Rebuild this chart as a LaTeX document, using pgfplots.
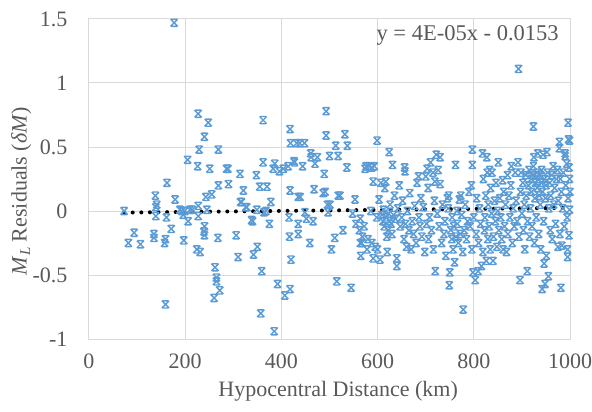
\documentclass[border=0pt]{standalone}
\usepackage{pgfplots}
\pgfplotsset{compat=1.18}
\usepackage{fontspec}
\setmainfont{Liberation Serif}
\definecolor{ptblue}{HTML}{5B9BD5}
\definecolor{txtgray}{HTML}{595959}
\definecolor{gridgray}{HTML}{D9D9D9}
\pgfdeclareplotmark{xstar}{%
  \pgfpathmoveto{\pgfqpoint{-\pgfplotmarksize}{-\pgfplotmarksize}}%
  \pgfpathlineto{\pgfqpoint{\pgfplotmarksize}{\pgfplotmarksize}}%
  \pgfpathmoveto{\pgfqpoint{-\pgfplotmarksize}{\pgfplotmarksize}}%
  \pgfpathlineto{\pgfqpoint{\pgfplotmarksize}{-\pgfplotmarksize}}%
  \pgfpathmoveto{\pgfqpoint{-0.8\pgfplotmarksize}{\pgfplotmarksize}}%
  \pgfpathlineto{\pgfqpoint{0.8\pgfplotmarksize}{\pgfplotmarksize}}%
  \pgfpathmoveto{\pgfqpoint{-0.8\pgfplotmarksize}{-\pgfplotmarksize}}%
  \pgfpathlineto{\pgfqpoint{0.8\pgfplotmarksize}{-\pgfplotmarksize}}%
  \pgfusepathqstroke}
\begin{document}
\fontsize{22bp}{26bp}\selectfont
\begin{tikzpicture}
\begin{axis}[
  scale only axis, width=481bp, height=320bp,
  xmin=0, xmax=1000, ymin=-1, ymax=1.5,
  xtick={0,200,400,600,800,1000},
  xticklabels={0,200,400,600,800,1000},
  ytick={-1,-0.5,0,0.5,1,1.5},
  yticklabels={-1,-0.5,0,0.5,1,1.5},
  major tick length=0pt,
  grid=major,
  grid style={gridgray, line width=1bp},
  axis line style={gridgray, line width=1bp},
  tick label style={font=\fontsize{22bp}{26bp}\selectfont, text=txtgray},
  xticklabel style={yshift=-7bp},
  yticklabel style={xshift=-14bp},
  xlabel={Hypocentral Distance (km)},
  ylabel={\textit{M}\raisebox{-0.35ex}{\fontsize{15bp}{15bp}\selectfont\textit{L}} Residuals (\textit{δM})},
  label style={font=\fontsize{22bp}{26bp}\selectfont, text=txtgray},
  xlabel style={at={(axis description cs:0.518,-0.163)}, anchor=center},
  ylabel style={at={(axis description cs:-0.141,0.4625)}, anchor=center, rotate=0},
  clip=false,
]
\addplot[only marks, mark=xstar, mark size=3.6bp, mark options={ptblue, line width=1.4bp}] coordinates {
(73,0.0)(82,-0.25)(94,-0.17)(107,-0.26)(135,-0.18)(135,-0.21)(138,0.12)(139,0.03)(139,-0.04)(141,0.05)(157,-0.25)(159,-0.22)(161,-0.05)(162,0.22)(171,-0.14)(177,1.47)(179,0.09)(159,-0.73)(189,0.01)(193,0.0)(196,-0.03)(197,-0.23)(199,0.0)
(205,0.40)(206,-0.08)(210,0.01)(215,0.01)(224,-0.30)(226,0.35)(227,0.76)(227,0.04)(227,-0.04)(229,0.48)(231,-0.32)(239,-0.16)(240,-0.12)(240,-0.19)(240,0.58)(243,0.11)(245,0.01)(248,0.69)(251,0.33)(255,0.13)(260,-0.68)(262,-0.44)(265,-0.52)(265,-0.55)(268,-0.21)(269,0.48)(269,0.20)(272,-0.62)(286,0.33)(289,0.33)(290,0.21)
(306,-0.19)(310,-0.36)(314,0.29)(315,0.07)(317,0.07)(321,0.16)(326,0.03)(328,0.03)(338,-0.07)(340,-0.08)(342,-0.34)(348,0.28)(349,0.01)(350,-0.28)(355,0.19)(357,-0.80)(359,-0.47)(362,0.71)(362,0.38)(364,-0.01)(368,0.0)(370,0.19)(375,-0.10)(378,0.07)(383,0.33)(385,-0.94)(386,0.37)(392,-0.57)(396,0.31)
(404,0.33)(407,-0.66)(414,0.35)(416,-0.05)(418,0.64)(418,-0.61)(418,0.16)(419,0.53)(420,-0.38)(417,-0.2)(426,0.39)(427,0.38)(432,0.53)(435,0.11)(435,-0.10)(435,-0.18)(438,0.53)(439,0.11)(444,0.35)(448,0.53)(449,-0.01)(452,-0.06)(459,-0.25)(461,0.45)(462,0.42)(466,-0.08)(468,0.17)(470,0.37)(475,0.42)(487,0.14)(489,0.29)(491,0.15)(493,0.78)(493,0.59)(496,0.05)(497,-0.01)(500,0.43)(501,0.05)
(504,-0.30)(511,-0.21)(513,0.51)(515,-0.55)(518,0.43)(518,0.12)(522,0.12)(528,-0.15)(532,0.60)(536,0.34)(537,0.51)(545,-0.60)(548,-0.02)(553,0.09)(555,-0.10)(562,-0.15)(564,-0.06)(564,-0.25)(565,-0.35)(567,-0.25)(568,-0.20)(572,-0.12)(574,0.33)(576,0.35)(578,-0.30)(580,-0.22)(582,0.35)(586,0.0)(588,-0.25)(588,0.34)(591,-0.37)(591,0.23)(593,0.35)(595,-0.28)(598,-0.05)(599,0.55)(600,-0.30)
(603,0.09)(605,-0.38)(607,0.22)(609,-0.03)(611,-0.08)(612,0.01)(614,-0.12)(615,0.18)(617,0.23)(618,-0.05)(619,-0.20)(620,-0.32)(622,-0.15)(623,-0.02)(624,0.46)(625,-0.08)(626,0.05)(628,-0.10)(630,-0.18)(631,0.36)(633,-0.03)(635,0.12)(637,-0.06)(640,-0.37)(640,-0.43)(642,0.02)(645,0.20)(647,-0.12)(650,-0.05)(652,0.08)(655,-0.22)(656,0.34)(657,0.31)(658,-0.10)(660,-0.28)(662,0.0)(665,-0.15)(667,0.14)(670,-0.30)(672,-0.08)(675,-0.18)(677,0.04)(680,-0.25)(682,0.22)(685,0.27)(686,-0.05)(688,-0.12)(690,0.10)(692,-0.20)(695,0.03)(698,-0.32)(700,0.27)(702,-0.10)(703,0.33)
(705,0.18)(706,-0.22)(708,-0.05)(710,0.38)(712,-0.15)(715,0.30)(716,-0.30)(718,0.08)(719,0.23)(720,-0.47)(722,0.44)(724,-0.02)(726,0.32)(728,-0.12)(730,0.21)(730,0.42)(733,-0.25)(735,0.05)(738,-0.18)(740,-0.08)(742,-0.35)(745,0.10)(747,0.02)(748,0.12)(749,-0.58)(750,-0.48)(752,-0.15)(754,-0.22)(755,-0.05)(757,-0.30)(758,-0.12)(760,-0.40)(762,0.36)(763,-0.20)(765,0.0)(766,-0.10)(768,-0.25)(770,0.09)(772,-0.18)(773,0.12)(775,-0.03)(777,-0.32)(778,-0.77)(780,-0.15)(782,0.05)(785,-0.22)(787,-0.08)(790,0.15)(792,-0.12)(795,0.20)(796,-0.30)(797,0.48)(797,0.36)(798,-0.48)(800,-0.05)
(803,-0.54)(805,-0.18)(806,0.10)(809,-0.47)(810,-0.25)(812,0.02)(814,-0.10)(816,-0.43)(818,0.45)(819,-0.32)(820,0.25)(822,-0.15)(823,-0.05)(825,0.12)(826,-0.39)(827,0.42)(828,0.30)(829,-0.22)(830,0.05)(832,-0.12)(833,0.32)(834,-0.30)(835,0.18)(837,-0.02)(838,0.30)(840,-0.39)(841,-0.20)(843,0.08)(845,-0.08)(846,0.22)(848,-0.28)(850,0.0)(851,0.38)(852,-0.15)(854,0.10)(856,-0.05)(858,-0.22)(860,0.24)(861,-0.30)(862,0.15)(864,-0.12)(866,0.05)(868,-0.32)(870,0.28)(871,-0.18)(873,0.12)(875,-0.05)(877,0.20)(878,0.35)(880,-0.25)(882,0.02)(884,-0.12)(886,0.30)(888,0.08)(890,-0.08)(892,0.38)(893,1.11)(894,-0.20)(896,-0.54)(897,0.15)(898,0.30)(900,-0.02)
(902,0.22)(903,-0.15)(905,0.05)(906,-0.30)(908,0.28)(909,0.12)(911,-0.47)(912,-0.08)(914,0.20)(915,0.32)(916,-0.20)(918,0.02)(919,0.25)(920,0.15)(921,-0.12)(922,0.28)(924,0.66)(924,0.35)(925,0.42)(926,-0.25)(927,0.10)(928,0.22)(930,-0.05)(931,0.30)(932,0.18)(933,0.45)(934,0.25)(935,-0.18)(936,0.12)(937,0.28)(938,0.05)(939,-0.30)(940,0.22)(941,0.32)(942,-0.61)(943,0.15)(944,0.44)(945,-0.08)(946,-0.41)(947,0.25)(948,-0.57)(949,0.10)(950,0.20)(951,-0.35)(952,0.46)(953,0.30)(955,-0.51)(956,0.02)(958,0.22)(959,-0.15)(960,0.12)(962,0.28)(963,-0.22)(965,0.35)(966,0.05)(968,0.18)(970,-0.10)(972,0.25)(974,0.32)(975,-0.28)(976,0.08)(978,0.54)(978,0.49)(979,-0.18)(980,0.25)(981,-0.60)(982,0.15)(983,-0.27)(985,0.02)(986,0.30)(988,-0.12)(990,0.45)(990,0.43)(991,0.20)(993,0.37)(994,-0.05)(995,-0.30)(995,-0.36)(996,0.69)(996,0.10)(997,0.56)(998,0.34)(998,-0.19)(999,0.55)(999,0.25)(999,0.01)(1000,0.15)
};
\addplot[black, line width=4bp, line cap=round, dash pattern=on 0bp off 8.6bp] coordinates {(73,-0.0124) (1000,0.0247)};
\node[anchor=east, text=txtgray, font=\fontsize{22.5bp}{26bp}\selectfont] at (axis cs:992,1.375) {y = 4E-05x - 0.0153};
\end{axis}
\pgfresetboundingbox
\path (current axis.south west) ++(-89bp,-73bp) rectangle ++(592bp,412bp);
\end{tikzpicture}
\end{document}
